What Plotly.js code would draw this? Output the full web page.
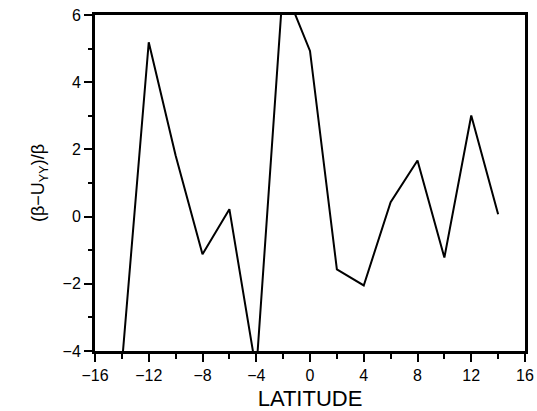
<!DOCTYPE html>
<html>
<head>
<meta charset="utf-8">
<script src="https://cdn.plot.ly/plotly-3.0.1.min.js"></script>
<style>html,body{margin:0;padding:0;background:#fff;}#chart{width:537px;height:411px;}</style>
</head>
<body>
<div id="chart"></div>
<script>
const latitude = [-14, -12, -10, -8, -6, -4, -2, 0, 2, 4, 6, 8, 10, 12, 14];
const ratio = [-4.4, 5.19, 1.82, -1.12, 0.22, -4.6, 6.9, 4.93, -1.57, -2.05, 0.43, 1.67, -1.22, 3.01, 0.07];
const xTicks = [-16, -12, -8, -4, 0, 4, 8, 12, 16];
const yTicks = [-4, -2, 0, 2, 4, 6];

const trace = {
  x: latitude, y: ratio, type: 'scatter', mode: 'lines',
  line: {color: '#000', width: 2}, hoverinfo: 'skip'
};
const tickFont = {family: 'Liberation Sans, Arial, sans-serif', size: 16, color: '#000'};
const layout = {
  width: 537, height: 411,
  margin: {l: 95, r: 12, t: 15, b: 60},
  paper_bgcolor: '#fff', plot_bgcolor: '#fff',
  showlegend: false,
  xaxis: {
    range: [-16, 16], tickvals: xTicks, ticktext: xTicks.map(v => v < 0 ? '\u2212' + (-v) : String(v)),
    ticks: 'outside', ticklen: 8, tickwidth: 2, tickcolor: '#000',
    minor: {dtick: 2, tick0: 0, ticks: 'outside', ticklen: 5, tickwidth: 2, tickcolor: '#000'},
    showline: true, linewidth: 3, linecolor: '#000', mirror: true,
    showgrid: false, zeroline: false, tickfont: tickFont,
    title: {text: 'LATITUDE', font: {family: 'Liberation Sans, Arial, sans-serif', size: 22, color: '#000'}, standoff: 8}
  },
  yaxis: {
    range: [-4, 6], tickvals: yTicks, ticktext: yTicks.map(v => v < 0 ? '\u2212' + (-v) : String(v)),
    ticks: 'outside', ticklen: 8, tickwidth: 2, tickcolor: '#000',
    minor: {dtick: 1, tick0: 0, ticks: 'outside', ticklen: 4, tickwidth: 2, tickcolor: '#000'},
    showline: true, linewidth: 3, linecolor: '#000', mirror: true,
    showgrid: false, zeroline: false, tickfont: tickFont,
    title: {text: '(\u03B2\u2212U<sub>YY</sub>)/\u03B2', font: {family: 'Liberation Sans, Arial, sans-serif', size: 18, color: '#000'}, standoff: 14}
  }
};
Plotly.newPlot('chart', [trace], layout, {displayModeBar: false, staticPlot: true});
</script>
</body>
</html>
